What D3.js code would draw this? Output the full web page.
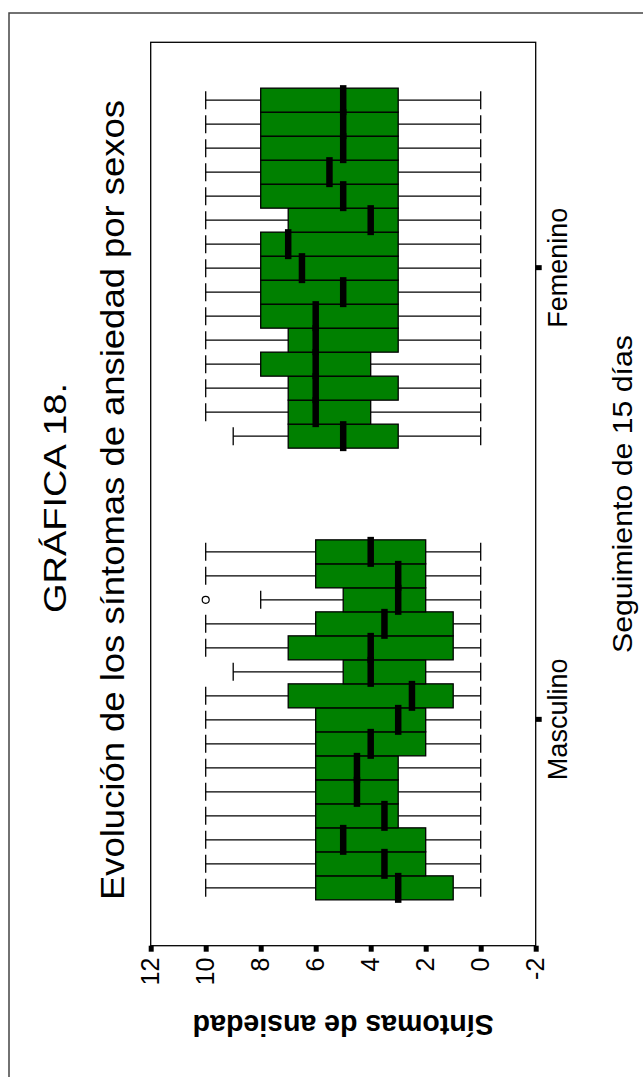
<!DOCTYPE html>
<html>
<head>
<meta charset="utf-8">
<script src="https://cdn.jsdelivr.net/npm/d3@7"></script>
<style>
  body { margin: 0; background: #fff; }
  svg { display: block; }
  text { font-family: "Liberation Sans", Arial, sans-serif; fill: #000; }
</style>
</head>
<body>
<div id="chart"></div>
<script>
// categorias y valores
var sexos = ["Masculino", "Femenino"];
var dias = [1, 2, 3, 4, 5, 6, 7, 8, 9, 10, 11, 12, 13, 14, 15];
var yTicks = [-2, 0, 2, 4, 6, 8, 10, 12];

var mascQ1  = [1, 2, 2, 3, 3, 3, 2, 2, 1, 2, 1, 1, 2, 2, 2];
var mascMed = [3, 3.5, 5, 3.5, 4.5, 4.5, 4, 3, 2.5, 4, 4, 3.5, 3, 3, 4];
var mascQ3  = [6, 6, 6, 6, 6, 6, 6, 6, 7, 5, 7, 6, 5, 6, 6];
var mascMin = [0, 0, 0, 0, 0, 0, 0, 0, 0, 0, 0, 0, 0, 0, 0];
var mascMax = [10, 10, 10, 10, 10, 10, 10, 10, 10, 9, 10, 10, 8, 10, 10];
var mascAtipicos = [{dia: 13, valor: 10}];

var femQ1  = [3, 4, 3, 4, 3, 3, 3, 3, 3, 3, 3, 3, 3, 3, 3];
var femMed = [5, 6, 6, 6, 6, 6, 5, 6.5, 7, 4, 5, 5.5, 5, 5, 5];
var femQ3  = [7, 7, 7, 8, 7, 8, 8, 8, 8, 7, 8, 8, 8, 8, 8];
var femMin = [0, 0, 0, 0, 0, 0, 0, 0, 0, 0, 0, 0, 0, 0, 0];
var femMax = [9, 10, 10, 10, 10, 10, 10, 10, 10, 10, 10, 10, 10, 10, 10];
var femAtipicos = [];

var W = 643, H = 1077;   // ventana

function rows(q1, med, q3, lo, hi) {
  return dias.map(function(d, i) {
    return {dia: d, q1: q1[i], med: med[i], q3: q3[i], lo: lo[i], hi: hi[i]};
  });
}
var grupos = [
  {sexo: "Masculino", datos: rows(mascQ1, mascMed, mascQ3, mascMin, mascMax), atipicos: mascAtipicos},
  {sexo: "Femenino", datos: rows(femQ1, femMed, femQ3, femMin, femMax), atipicos: femAtipicos}
];

var svg = d3.select("#chart").append("svg")
    .attr("width", W)
    .attr("height", H);

// el grafico entero esta girado 90 grados
var g = svg.append("g")
    .attr("transform", "translate(0," + H + ") rotate(-90)");

// marco exterior
g.append("rect")
    .attr("x", -20).attr("y", 9)
    .attr("width", 1084).attr("height", 660)
    .attr("fill", "none")
    .attr("stroke", "#444")
    .attr("stroke-width", 1.5);

var plot = {left: 131.3, right: 1034.7, top: 150.7, bottom: 535.7};

var y = d3.scaleLinear().domain([-2, 12]).range([plot.bottom, plot.top]);
var x = d3.scalePoint().domain(sexos).range([plot.left, plot.right]).padding(0.5);
var xd = d3.scaleBand().domain(dias).range([-180, 180]);
var bw = xd.bandwidth();
var capW = bw * 0.75;

g.append("rect")
    .attr("x", plot.left).attr("y", plot.top)
    .attr("width", plot.right - plot.left)
    .attr("height", plot.bottom - plot.top)
    .attr("fill", "none")
    .attr("stroke", "#000")
    .attr("stroke-width", 1.3);

// ejes
var yAxis = g.append("g")
    .attr("transform", "translate(" + plot.left + ",0)")
    .call(d3.axisLeft(y).tickValues(yTicks).tickSize(6).tickPadding(6)
      .tickFormat(function(d) { return String(d); }));
yAxis.select(".domain").remove();
yAxis.selectAll(".tick line").attr("stroke-width", 5);
yAxis.selectAll(".tick text")
    .style("font-family", "Liberation Sans, Arial, sans-serif")
    .style("font-size", "25px");

var xAxis = g.append("g")
    .attr("transform", "translate(0," + plot.bottom + ")")
    .call(d3.axisBottom(x).tickSize(6).tickPadding(6));
xAxis.select(".domain").remove();
xAxis.selectAll(".tick line").attr("stroke-width", 5);
xAxis.selectAll(".tick text")
    .style("font-family", "Liberation Sans, Arial, sans-serif")
    .style("font-size", "27px");

// cajas
grupos.forEach(function(gr) {
  var gg = g.append("g")
      .attr("transform", "translate(" + x(gr.sexo) + ",0)");

  var cx = function(d) { return xd(d.dia) + bw / 2; };

  // bigotes
  gg.selectAll(".wh-top").data(gr.datos).enter().append("line")
      .attr("x1", cx).attr("x2", cx)
      .attr("y1", function(d) { return y(d.q3); })
      .attr("y2", function(d) { return y(d.hi); })
      .attr("stroke", "#000").attr("stroke-width", 1.3);
  gg.selectAll(".wh-bot").data(gr.datos).enter().append("line")
      .attr("x1", cx).attr("x2", cx)
      .attr("y1", function(d) { return y(d.q1); })
      .attr("y2", function(d) { return y(d.lo); })
      .attr("stroke", "#000").attr("stroke-width", 1.3);
  gg.selectAll(".cap-top").data(gr.datos).enter().append("line")
      .attr("x1", function(d) { return cx(d) - capW / 2; })
      .attr("x2", function(d) { return cx(d) + capW / 2; })
      .attr("y1", function(d) { return y(d.hi); })
      .attr("y2", function(d) { return y(d.hi); })
      .attr("stroke", "#000").attr("stroke-width", 1.3);
  gg.selectAll(".cap-bot").data(gr.datos).enter().append("line")
      .attr("x1", function(d) { return cx(d) - capW / 2; })
      .attr("x2", function(d) { return cx(d) + capW / 2; })
      .attr("y1", function(d) { return y(d.lo); })
      .attr("y2", function(d) { return y(d.lo); })
      .attr("stroke", "#000").attr("stroke-width", 1.3);

  gg.selectAll(".box").data(gr.datos).enter().append("rect")
      .attr("x", function(d) { return xd(d.dia); })
      .attr("width", bw)
      .attr("y", function(d) { return y(d.q3); })
      .attr("height", function(d) { return y(d.q1) - y(d.q3); })
      .attr("fill", "#008000")
      .attr("stroke", "#000")
      .attr("stroke-width", 1.3);

  // medianas
  gg.selectAll(".med").data(gr.datos).enter().append("line")
      .attr("x1", function(d) { return xd(d.dia) - 3; })
      .attr("x2", function(d) { return xd(d.dia) + bw + 3; })
      .attr("y1", function(d) { return y(d.med); })
      .attr("y2", function(d) { return y(d.med); })
      .attr("stroke", "#000").attr("stroke-width", 6.5);

  gg.selectAll(".out").data(gr.atipicos).enter().append("circle")
      .attr("cx", function(d) { return xd(d.dia) + bw / 2; })
      .attr("cy", function(d) { return y(d.valor); })
      .attr("r", 3.5)
      .attr("fill", "#fff")
      .attr("stroke", "#000")
      .attr("stroke-width", 1.2);
});

// textos
var cxPlot = (plot.left + plot.right) / 2;
g.append("text")
    .attr("x", cxPlot - 4).attr("y", 65.6)
    .attr("text-anchor", "middle")
    .attr("textLength", 230).attr("lengthAdjust", "spacingAndGlyphs")
    .style("font-size", "31px")
    .text("GRÁFICA 18.");

g.append("text")
    .attr("x", cxPlot - 6).attr("y", 124)
    .attr("text-anchor", "middle")
    .attr("textLength", 800).attr("lengthAdjust", "spacingAndGlyphs")
    .style("font-size", "33px")
    .text("Evolución de los síntomas de ansiedad por sexos");

g.append("text")
    .attr("x", cxPlot).attr("y", 632)
    .attr("text-anchor", "middle")
    .attr("textLength", 318).attr("lengthAdjust", "spacingAndGlyphs")
    .style("font-size", "28px")
    .text("Seguimiento de 15 días");

g.append("text")
    .attr("transform", "translate(62," + ((plot.top + plot.bottom) / 2) + ") rotate(-90)")
    .attr("text-anchor", "middle")
    .attr("textLength", 301).attr("lengthAdjust", "spacingAndGlyphs")
    .style("font-size", "30px")
    .style("font-weight", "bold")
    .text("Síntomas de ansiedad");
</script>
</body>
</html>
